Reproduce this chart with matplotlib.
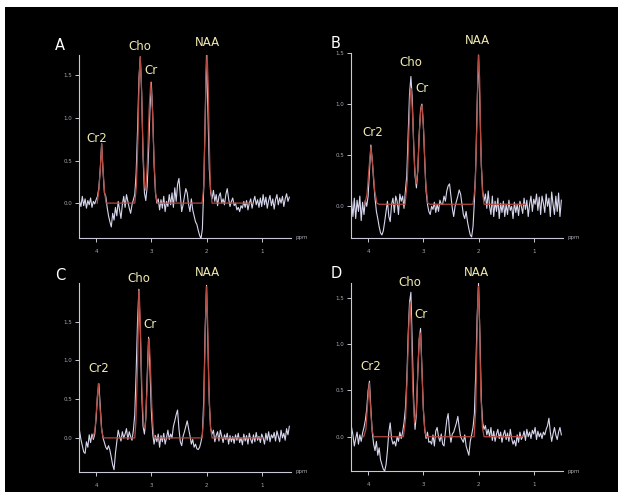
import numpy as np
import matplotlib
matplotlib.use("Agg")
import matplotlib.pyplot as plt
from matplotlib.patches import Rectangle

# chemical shift grid (ppm) for the measured spectra
ppm = np.round(np.arange(4.30, 0.4999, -0.025), 3)

# measured spectra (white traces), one value per grid point
spec_a = [0.02, -0.04, 0.08, -0.03, 0.05, -0.06, 0.03, -0.02, 0.06, -0.05, 0.02, -0.01,
          0.04, 0.08, 0.18, 0.40, 0.70, 0.38, 0.12, 0.08,
          -0.05, -0.15, -0.22, -0.28, -0.12, -0.20, -0.05, -0.15, 0.02, -0.08,
          -0.18, -0.02, 0.08, -0.05, 0.10, 0.02, -0.06, -0.12, -0.02, 0.04,
          0.10, 0.35, 0.85, 1.45, 1.72, 1.30, 0.55, 0.12, 0.03, 0.20, 0.60, 1.10,
          1.42, 1.05, 0.45, 0.12, 0.00,
          0.05, -0.08, 0.04, -0.06, 0.08, -0.10, 0.02, -0.04, 0.10, -0.02,
          0.12, -0.05, 0.18, 0.02, 0.22, 0.29, 0.10, -0.10, -0.02, 0.08,
          0.17, 0.12, -0.02, -0.10, 0.05, -0.08, -0.15, -0.22, -0.25, -0.32, -0.38,
          -0.42, -0.30, 0.20, 1.00, 1.76, 1.10, 0.40, 0.12, 0.05,
          0.15, 0.02, 0.10, -0.03, 0.08, 0.12, 0.00, 0.05, -0.02, 0.10,
          0.17, 0.05, -0.04, 0.02, 0.06, -0.03, 0.00, -0.08, -0.05, -0.10,
          -0.03, -0.06, 0.02, -0.05, 0.03, -0.08, 0.00, 0.05, -0.06, 0.02,
          0.08, -0.02, 0.04, -0.05, 0.06, -0.04, 0.10, -0.02, 0.07, -0.06,
          0.03, 0.09, -0.03, 0.05, -0.07, 0.04, 0.10, -0.02, 0.06, 0.00,
          0.08, -0.04, 0.05, 0.11, 0.02, 0.07]

spec_b = [0.05, -0.10, 0.08, -0.12, 0.06, -0.05, 0.10, -0.14, 0.04, -0.08, 0.06, 0.00, 0.10,
          0.35, 0.60, 0.45, 0.25, 0.08, -0.05,
          -0.12, -0.20, -0.26, -0.28, -0.24, -0.15, -0.05, 0.05, -0.10, -0.15,
          0.02, 0.08, -0.06, 0.10, 0.05, -0.08, 0.12, 0.05, 0.10, -0.02, 0.15,
          0.30, 0.70, 1.10, 1.27, 1.05, 0.60, 0.30, 0.18, 0.35, 0.70, 0.95, 1.00,
          0.80, 0.45, 0.15, 0.02, -0.05,
          -0.08, 0.00, -0.03, 0.04, -0.06, 0.02, -0.05, 0.06, 0.02,
          0.02, 0.10, 0.05, 0.15, 0.20, 0.22, 0.10, -0.02, -0.10, 0.00, 0.05,
          0.10, 0.16, 0.12, 0.02, -0.08, -0.12, -0.05, -0.15, -0.22, -0.28, -0.30,
          -0.20, 0.05, 0.40, 1.00, 1.48, 1.00, 0.40, 0.15, 0.05,
          0.12, -0.02, 0.15, 0.00, -0.08, 0.10, -0.10, 0.05, -0.05, 0.08,
          -0.12, 0.03, -0.06, 0.05, -0.10, 0.02, -0.08, 0.06, -0.04, 0.00,
          -0.12, 0.04, -0.06, 0.02, -0.09, 0.05, 0.00, -0.07, 0.08, -0.03,
          0.06, -0.10, 0.02, 0.10, -0.05, 0.07, 0.02, 0.12, -0.04, 0.09,
          -0.08, 0.10, 0.03, -0.06, 0.12, 0.00, 0.08, -0.10, 0.14, 0.02,
          -0.08, 0.10, -0.05, 0.13, -0.10, 0.06]

spec_c = [0.09, -0.02, -0.10, -0.18, -0.20, -0.05, -0.12, 0.04, -0.06, 0.05, -0.02, 0.05,
          0.25, 0.55, 0.70, 0.40, 0.12, 0.00,
          -0.06, -0.12, -0.15, -0.10, -0.16, -0.25, -0.35, -0.41, -0.20, -0.05,
          0.10, 0.02, -0.04, 0.08, 0.00, 0.05, 0.12, -0.02, 0.08, 0.02, -0.03, 0.10,
          0.30, 0.85, 1.50, 1.92, 1.40, 0.60, 0.15, 0.05, 0.25, 0.80, 1.30, 0.90,
          0.35, 0.05, -0.08, 0.03, -0.05,
          0.05, -0.12, 0.03, -0.05, 0.06, -0.08, 0.00, 0.10, -0.02, 0.05,
          0.00, 0.15, 0.22, 0.30, 0.36, 0.12, -0.05, -0.10, 0.02, 0.08,
          0.15, 0.22, 0.12, 0.03, -0.08, -0.02, -0.12, -0.08, -0.14, -0.15, -0.12,
          -0.05, 0.05, 0.50, 1.40, 1.97, 1.20, 0.45, 0.12, 0.05,
          0.10, -0.05, 0.03, 0.08, -0.04, 0.10, 0.02, -0.06, 0.04, -0.02,
          0.06, -0.08, 0.03, -0.05, 0.02, -0.07, 0.04, -0.03, 0.06, -0.06,
          0.00, -0.09, 0.05, -0.04, 0.03, -0.08, 0.06, -0.02, -0.07, 0.04,
          -0.05, 0.07, -0.03, 0.02, -0.06, 0.05, 0.00, -0.08, 0.06, -0.03,
          0.08, -0.05, 0.04, 0.00, 0.07, -0.04, 0.09, 0.02, -0.05, 0.10,
          0.00, 0.06, -0.03, 0.12, 0.04, 0.15]

spec_d = [0.10, 0.02, -0.10, -0.02, 0.05, -0.08, 0.02, -0.05, 0.04, 0.10, 0.18,
          0.30, 0.50, 0.60, 0.30, 0.05, -0.08,
          -0.15, -0.05, -0.20, -0.12, -0.25, -0.30, -0.35, -0.37, -0.30, -0.15,
          0.05, 0.15, -0.02, -0.08, -0.05, -0.10, 0.00, -0.05, 0.05, -0.02, 0.05,
          0.15, 0.30,
          0.60, 1.10, 1.45, 1.56, 1.00, 0.40, 0.08, 0.25, 0.70, 1.05, 1.17, 0.75,
          0.30, 0.08, -0.02, 0.05, -0.06,
          -0.05, -0.08, 0.02, -0.10, 0.06, 0.10, 0.00, -0.05, 0.03, -0.08,
          -0.10, 0.05, 0.18, 0.25, 0.05, -0.06, 0.03, 0.05, 0.10, 0.15,
          0.22, 0.10, 0.00, -0.03, -0.06, 0.02, -0.10, -0.15, -0.20, -0.05, 0.02, 0.10,
          0.25, 0.70, 1.30, 1.66, 1.10, 0.40, 0.15, 0.08,
          0.12, 0.02, 0.08, 0.00, 0.10, -0.04, 0.06, -0.05, 0.03, 0.08,
          -0.02, 0.05, -0.06, 0.02, 0.07, -0.03, 0.04, -0.05, 0.08, -0.02,
          -0.08, -0.04, -0.10, 0.02, -0.06, 0.05, -0.03, 0.00, 0.06, -0.04,
          0.08, 0.00, 0.05, -0.02, 0.07, 0.03, 0.10, -0.03, 0.06, 0.00,
          0.04, -0.02, 0.05, 0.02, 0.08, 0.12, 0.20, 0.05, -0.05, 0.03,
          0.10, 0.02, -0.03, 0.05, 0.10, 0.02]

# fitted model (red curves): knots (ppm, amplitude)
fit_a_ppm = [3.98, 3.95, 3.92, 3.90, 3.88, 3.85, 3.82, 3.30, 3.27, 3.24, 3.22, 3.20, 3.18, 3.15,
             3.12, 3.10, 3.07, 3.04, 3.01, 2.98, 2.95, 2.92, 2.89, 2.08, 2.05, 2.03, 2.01,
             1.99, 1.97, 1.95, 1.93, 1.90, 1.20]
fit_a_val = [0.00, 0.15, 0.45, 0.70, 0.45, 0.15, 0.00, 0.00, 0.20, 0.80, 1.50, 1.72, 1.40, 0.60,
             0.20, 0.15, 0.50, 1.10, 1.42, 1.10, 0.50, 0.10, 0.00, 0.00, 0.20, 0.80, 1.50,
             1.76, 1.40, 0.70, 0.20, 0.00, 0.00]

fit_b_ppm = [4.06, 4.02, 3.98, 3.95, 3.92, 3.88, 3.84, 3.80, 3.33, 3.29, 3.26, 3.235, 3.22, 3.19,
             3.16, 3.13, 3.10, 3.07, 3.04, 3.02, 2.99, 2.96, 2.92, 2.88, 2.10, 2.06, 2.03,
             2.01, 2.00, 1.98, 1.96, 1.93, 1.90, 1.15]
fit_b_val = [0.02, 0.12, 0.40, 0.58, 0.42, 0.15, 0.03, 0.02, 0.02, 0.25, 0.75, 1.12, 1.15, 0.85,
             0.40, 0.22, 0.35, 0.75, 0.98, 0.98, 0.70, 0.25, 0.03, 0.02, 0.02, 0.20, 0.80,
             1.35, 1.48, 1.25, 0.60, 0.15, 0.02, 0.02]

fit_c_ppm = [4.06, 4.02, 3.99, 3.96, 3.93, 3.90, 3.87, 3.30, 3.28, 3.25, 3.23, 3.22, 3.20, 3.17,
             3.14, 3.11, 3.08, 3.05, 3.04, 3.02, 2.99, 2.96, 2.93, 2.08, 2.05, 2.03, 2.01,
             2.00, 1.98, 1.96, 1.93, 1.90, 1.00]
fit_c_val = [0.00, 0.10, 0.40, 0.70, 0.40, 0.10, 0.00, 0.00, 0.20, 0.90, 1.70, 1.90, 1.50, 0.60,
             0.15, 0.12, 0.60, 1.20, 1.28, 1.00, 0.40, 0.05, 0.00, 0.00, 0.30, 1.10, 1.80,
             1.95, 1.50, 0.70, 0.15, 0.00, 0.00]

fit_d_ppm = [4.08, 4.04, 4.01, 3.98, 3.96, 3.93, 3.90, 3.36, 3.32, 3.29, 3.26, 3.24, 3.22, 3.19,
             3.16, 3.13, 3.10, 3.07, 3.05, 3.03, 3.00, 2.97, 2.94, 2.08, 2.05, 2.03, 2.01,
             2.00, 1.98, 1.96, 1.93, 1.90, 1.20]
fit_d_val = [0.00, 0.08, 0.35, 0.58, 0.35, 0.08, 0.00, 0.00, 0.20, 0.70, 1.25, 1.45, 1.20, 0.50,
             0.15, 0.25, 0.70, 1.10, 1.12, 0.80, 0.30, 0.05, 0.00, 0.00, 0.30, 1.00, 1.55,
             1.62, 1.20, 0.50, 0.10, 0.00, 0.00]

panel_letters = ["A", "B", "C", "D"]
peak_names = ["Cho", "Cr", "NAA", "Cr2"]
x_ticks = [4, 3, 2, 1]
y_ticks = [0.0, 0.5, 1.0, 1.5]

W, H = 618, 492
fig = plt.figure(figsize=(W / 100, H / 100), dpi=100, facecolor="white")
fig.patches.append(Rectangle((5 / W, 0), 1, 1 - 7 / H, transform=fig.transFigure,
                             facecolor="black", edgecolor="none", zorder=-10))


def px(x, y):
    return x / W, 1 - y / H


# axes boxes in pixels: left, top, right, bottom
boxes = [(79, 55, 291, 238), (351, 53, 563, 238), (79, 283, 291, 472), (351, 283, 563, 471)]
ylims = [(-0.41, 1.74), (-0.31, 1.49), (-0.44, 2.0), (-0.37, 1.66)]
spectra = [spec_a, spec_b, spec_c, spec_d]
fits = [(fit_a_ppm, fit_a_val), (fit_b_ppm, fit_b_val), (fit_c_ppm, fit_c_val), (fit_d_ppm, fit_d_val)]

# label pixel positions: letter, Cho, Cr, NAA, Cr2
label_px = [
    [(60, 45), (140, 47), (151, 70), (207, 42), (97, 138)],
    [(336, 43), (411, 62), (422, 89), (477, 41), (373, 133)],
    [(60, 275), (139, 278), (150, 324), (207, 273), (99, 369)],
    [(336, 274), (410, 282), (421, 314), (476, 272), (371, 367)],
]

axis_col = "#c8c8d6"
for k in range(4):
    l, t, r, b = boxes[k]
    ax = fig.add_axes([l / W, 1 - b / H, (r - l) / W, (b - t) / H], zorder=2)
    ax.set_facecolor("none")
    ax.plot(ppm, spectra[k], color="#d6d6ee", lw=0.8, zorder=2)
    ax.plot(fits[k][0], fits[k][1], color="#b44a40", lw=0.9, zorder=3)
    ax.set_xlim(4.31, 0.47)
    ax.set_ylim(*ylims[k])
    for s in ["top", "right"]:
        ax.spines[s].set_visible(False)
    for s in ["left", "bottom"]:
        ax.spines[s].set_color(axis_col)
        ax.spines[s].set_linewidth(0.8)
    ax.set_xticks(x_ticks)
    ax.set_xticklabels([str(v) for v in x_ticks])
    ax.set_yticks(y_ticks)
    ax.set_yticklabels(["%.1f" % v for v in y_ticks])
    ax.tick_params(colors=axis_col, labelcolor="#a8a8b0", labelsize=4, length=3, width=0.7, pad=2)
    ax.tick_params(axis="x", pad=5)
    ax.text(1.02, 0.0, "ppm", transform=ax.transAxes, color="#a8a8b0", fontsize=4,
            ha="left", va="center")

    pos = label_px[k]
    fig.text(*px(*pos[0]), panel_letters[k], color="white", fontsize=10.5, ha="center", va="center")
    for name, p in zip(peak_names, pos[1:]):
        fig.text(*px(*p), name, color="#f2eab0", fontsize=8.5, ha="center", va="center")

fig.savefig("out.png", dpi=100, facecolor=fig.get_facecolor())
